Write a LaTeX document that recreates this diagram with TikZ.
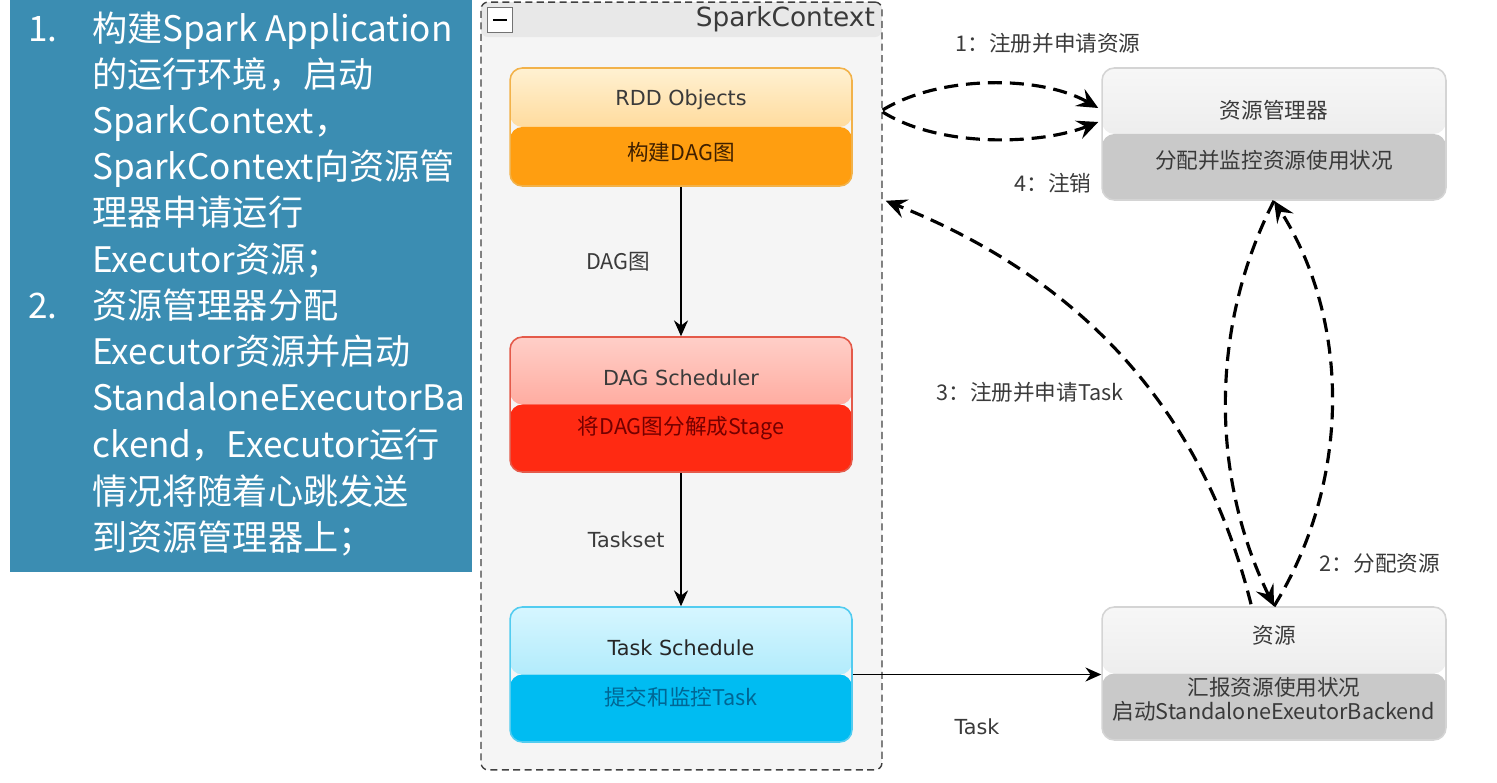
\documentclass[tikz,border=0pt]{standalone}
\usepackage{fontspec}
\setmainfont{Noto Sans CJK SC}
\newfontfamily\latinfont{DejaVu Sans}
\usetikzlibrary{arrows.meta,calc}

\definecolor{panelblue}{HTML}{3B8DB2}
\definecolor{txtgray}{HTML}{3A3A3A}
\definecolor{rddline}{HTML}{F2B24A}
\definecolor{rddhi}{HTML}{FFF1D2}
\definecolor{rddmid}{HTML}{FFC66A}
\definecolor{rddlow}{HTML}{FF9E10}
\definecolor{dagline}{HTML}{E45A4A}
\definecolor{daghi}{HTML}{FFCFC8}
\definecolor{dagmid}{HTML}{FF8A7A}
\definecolor{daglow}{HTML}{FF2A12}
\definecolor{tsline}{HTML}{52CCF0}
\definecolor{tshi}{HTML}{D6F6FF}
\definecolor{tsmid}{HTML}{8EE1F8}
\definecolor{tslow}{HTML}{00BCF2}
\definecolor{resline}{HTML}{D4D4D4}
\definecolor{reshi}{HTML}{F7F7F7}
\definecolor{resmid}{HTML}{E4E4E4}
\definecolor{reslow}{HTML}{C9C9C9}

\begin{document}
\begin{tikzpicture}[x=0.02cm, y=-0.02cm,
stage/.style n args = {5}{draw=#1line, line width=0.9pt, rounded corners=7pt, minimum width=6.84cm, minimum height=#5,
  path picture={\shade[top color=#2, bottom color=#3] (path picture bounding box.north west) rectangle (path picture bounding box.east);
    \fill[#4] (path picture bounding box.west) rectangle (path picture bounding box.south east);}},
container/.style = {draw=black!75, dash pattern=on 4pt off 2.5pt, line width=0.8pt, rounded corners=4pt, fill=black!4,
  minimum width=8.02cm, minimum height=15.36cm,
  path picture={\fill[black!9] (path picture bounding box.north west) rectangle ($(path picture bounding box.north east)+(0,-0.7cm)$);}},
ttl/.style = {font=\fontsize{12.3}{14}\selectfont, text=txtgray, inner sep=1pt},
ltn/.style = {font=\latinfont\fontsize{11.8}{14}\selectfont, text=txtgray, inner sep=1pt},
lbl/.style = {font=\fontsize{12.3}{14}\selectfont, text=txtgray, inner sep=1pt},
pline/.style = {font=\fontsize{20}{26}\selectfont, text=white, anchor=base west, inner sep=0pt},
flow/.style = {line width=0.9pt, -{Stealth[length=9pt, width=8pt]}},
ctrl/.style = {line width=1.8pt, dash pattern=on 8pt off 4.5pt, -{Stealth[length=12pt, width=11pt, inset=4.5pt]}},
scale = 1
]
\useasboundingbox (0,0) rectangle (1497,783);

% left text panel
\node[fill=panelblue, minimum width=9.24cm, minimum height=11.44cm, inner sep=0pt] (panel) at (241,286) {};
\node[pline] (numA) at (28,42) {1.};
\node[pline] (numB) at (28,319) {2.};
\foreach \n/\y/\t in {a/42/构建Spark Application, b/88/的运行环境，启动, c/134/SparkContext，, d/180/SparkContext向资源管,
  e/226/理器申请运行, f/273/Executor资源；, g/319/资源管理器分配, h/365/Executor资源并启动, i/411/StandaloneExecutorBa,
  j/458/ckend，Executor运行, k/504/情况将随着心跳发送, l/550/到资源管理器上；}{\node[pline] (line\n) at (92,\y) {\t};}

% SparkContext
\node[container] (sc) at (681.5,386) {};
\node[draw=black!55, fill=white, minimum size=0.5cm, inner sep=0pt] (fold) at (500,20) {\rule{8pt}{1.6pt}};
\node[font=\latinfont\fontsize{15}{18}\selectfont, text=txtgray, anchor=east, inner sep=1pt] (scname) at (877,19) {SparkContext};

\node[stage={rdd}{rddhi}{rddmid}{rddlow}{2.36cm}] (rdd) at (681,127) {};
\node[ltn] (rddT) at (681,100) {RDD Objects};
\node[ttl, text=black!75!orange] (rddS) at (681,152) {构建DAG图};

\node[stage={dag}{daghi}{dagmid}{daglow}{2.7cm}] (dag) at (681,404.5) {};
\node[ltn] (dagT) at (681,378) {DAG Scheduler};
\node[ttl, text=black!55!red] (dagS) at (681,428) {将DAG图分解成Stage};

\node[stage={ts}{tshi}{tsmid}{tslow}{2.7cm}] (ts) at (681,674.5) {};
\node[ltn, text=black!85] (tsT) at (681,648) {Task Schedule};
\node[ttl, text=black!70!blue!60!cyan] (tsS) at (681,697) {提交和监控Task};

% resources side
\node[stage={res}{reshi}{resmid}{reslow}{2.64cm}, minimum width=6.88cm] (rm) at (1274,134) {};
\node[ttl] (rmT) at (1274,110) {资源管理器};
\node[ttl] (rmS) at (1274,160) {分配并监控资源使用状况};

\node[stage={res}{reshi}{resmid}{reslow}{2.66cm}, minimum width=6.88cm] (res) at (1274,673.5) {};
\node[ttl] (resT) at (1274,635) {资源};
\node[ttl, align=center, font=\fontsize{12.3}{13.7}\selectfont] (resS) at (1274,699) {汇报资源使用状况\\启动StandaloneExeutorBackend};

% solid flow
\draw[flow] (rdd.south) -- node[lbl, midway, left=16pt] (dagLbl) {DAG图} (dag.north);
\draw[flow] (dag.south) -- node[ltn, midway, left=8pt] (setLbl) {Taskset} (ts.north);
\draw[flow] (ts.east) -- node[ltn, midway, below=24pt] (taskLbl) {Task} (ts.east -| res.west);

% dashed control
\draw[ctrl] ($(sc.east |- rm.west)+(0,-24)$) .. controls (940,75) and (1040,75) .. ($(rm.west)+(-3,-26)$);
\draw[ctrl] ($(sc.east |- rm.west)+(0,-22)$) .. controls (940,148) and (1040,145) .. ($(rm.west)+(-3,-12)$);
\draw[ctrl] ($(res.north)+(-23,-2)$) .. controls (1210,440) and (1110,290) .. ($(sc.east |- rm.south)+(3,0)$);
\draw[ctrl] (rm.south) .. controls (1208,330) and (1212,480) .. (res.north);
\draw[ctrl] (res.north) .. controls (1352,480) and (1350,320) .. (rm.south);

\node[lbl] (regLbl) at (1048,43) {1：注册并申请资源};
\node[lbl] (offLbl) at (1053,183) {4：注销};
\node[lbl] (taskReg) at (1030,392) {3：注册并申请Task};
\node[lbl] (allocLbl) at (1380,563) {2：分配资源};
\end{tikzpicture}
\end{document}
